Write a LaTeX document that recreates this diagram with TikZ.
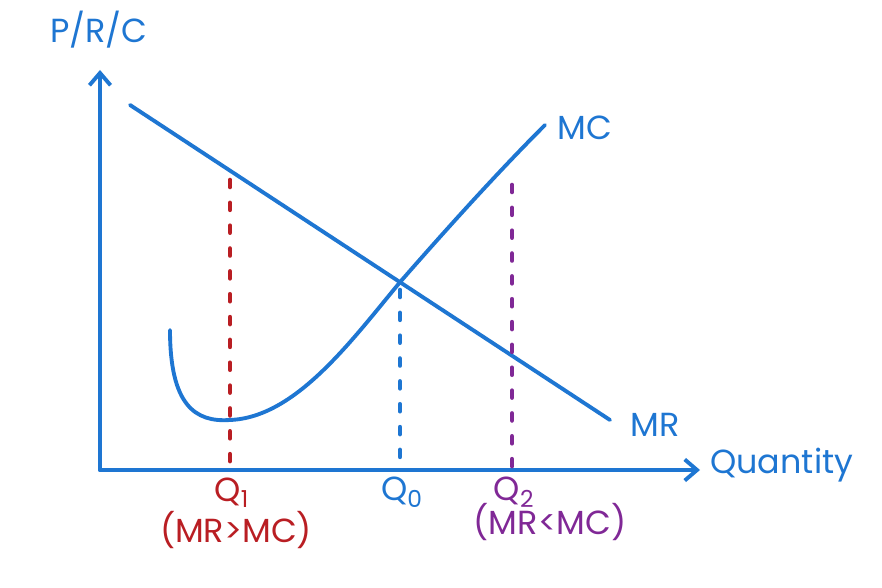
\documentclass[tikz,border=0pt]{standalone}
\usepackage{fontspec}
\setmainfont{Poppins}
\usetikzlibrary{calc,arrows.meta}

\definecolor{penblue}{RGB}{30,118,210}
\definecolor{penred}{RGB}{185,30,35}
\definecolor{penpurple}{RGB}{128,40,150}

\begin{document}
\begin{tikzpicture}[line width=2.2pt, line cap=round,
    every node/.style={font=\fontsize{19}{22}\selectfont},
    guide/.style={line width=2.6pt, dash pattern=on 4pt off 9pt},
    axis/.style={penblue, -{Straight Barb[length=7pt,width=12pt]}}]

\useasboundingbox (-2,-2.36) rectangle (15.64,9.4);

% --- Define variables with \def ---
\def\xMax{12}
\def\yMax{8}
\def\qOne{2.6}
\def\qZero{6.0}
\def\qTwo{8.24}

% --- MR line: intercept and slope ---
\pgfmathsetmacro{\mrA}{7.3}
\pgfmathsetmacro{\mrB}{-6.3/9.6}
\pgfmathsetmacro{\mrZero}{\mrA+\mrB*(\qZero-0.6)}

% --- Axes ---
\coordinate (origin) at (0,0);
\coordinate (ytip) at (0,\yMax);
\coordinate (xtip) at (\xMax,0);
\draw[axis] (origin) -- (ytip);
\draw[axis] (origin) -- (xtip);
\node[penblue] (ylab) at (-0.02,8.8) {P/R/C};
\node[penblue, anchor=west] (xlab) at (12.05,0.1) {Quantity};

% --- Marginal revenue ---
\coordinate (mrstart) at (0.6,\mrA);
\coordinate (mrend) at (10.2,1.0);
\draw[penblue] (mrstart) -- (mrend);
\node[penblue, anchor=west] (mrlab) at (10.45,0.9) {MR};

% --- Marginal cost ---
\coordinate (mcstart) at (1.4,2.8);
\coordinate (mcmin) at (\qOne,1.0);
\coordinate (cross) at (\qZero,\mrZero);
\coordinate (mcend) at (8.9,6.9);
\draw[penblue] (mcstart) .. controls (1.4,1.3) and (1.9,0.95) .. (mcmin)
    .. controls (3.9,1.05) and (5.0,2.55) .. (cross)
    .. controls (7.0,4.9) and (8.0,6.0) .. (mcend);
\node[penblue, anchor=west] (mclab) at (9.0,6.85) {MC};

% --- Quantity guides with a loop ---
\foreach \q/\top/\bot/\col/\name/\sub in {%
    \qOne/5.8/0/penred/Q1/1,
    \qZero/3.6/0.25/penblue/Q0/0,
    \qTwo/5.7/-0.1/penpurple/Q2/2} {
    \coordinate (\name top) at (\q,\top);
    \coordinate (\name bot) at (\q,\bot);
    \draw[guide, \col] (\name top) -- (\name bot);
    \node[\col] (\name) at (\q+0.04,-0.45) {Q\textsubscript{\sub}};
}

% --- Conditions under the axis ---
\node[penred] (cond1) at (2.72,-1.2) {(MR>MC)};
\node[penpurple] (cond2) at (9.0,-1.05) {(MR<MC)};

\end{tikzpicture}
\end{document}
